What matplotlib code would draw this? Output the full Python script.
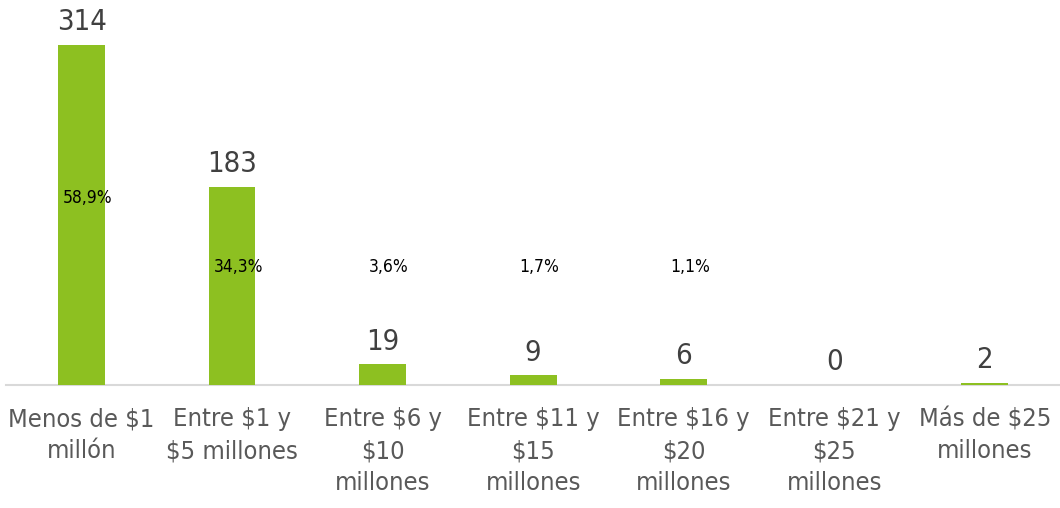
import numpy as np
import matplotlib
matplotlib.use('Agg')
import matplotlib.pyplot as plt

categories = ['Menos de $1\nmillón', 'Entre $1 y\n$5 millones', 'Entre $6 y\n$10\nmillones',
              'Entre $11 y\n$15\nmillones', 'Entre $16 y\n$20\nmillones', 'Entre $21 y\n$25\nmillones',
              'Más de $25\nmillones']
counts = [314, 183, 19, 9, 6, 0, 2]
pct_labels = ['58,9%', '34,3%', '3,6%', '1,7%', '1,1%']
pct_ypos = [173, 109, 109, 109, 109]  # where the percent labels sit (data units)

plt.rcParams['font.family'] = 'DejaVu Sans'
stretch = 'condensed'

fig = plt.figure(figsize=(10.6, 5.08), dpi=100)
ax = fig.add_axes([0.006, 0.242, 0.994, 0.746])

x = np.arange(len(categories))
ax.bar(x, counts, width=0.31, color='#8DC021', zorder=3)

for xi, c in zip(x, counts):
    ax.text(xi, c + 8, str(c), ha='center', va='bottom', fontsize=21,
            color='#404040', fontstretch=stretch)

for xi, lab, yp in zip(x, pct_labels, pct_ypos):
    ax.text(xi + 0.04, yp, lab, ha='center', va='center', fontsize=12.5,
            color='black', fontstretch=stretch)

ax.set_xlim(-0.5, len(categories) - 0.5)
ax.set_ylim(0, 350)
ax.set_yticks([])
ax.set_xticks(x)
ax.set_xticklabels(categories, fontsize=18.3, color='#595959', linespacing=1.42,
                   fontstretch=stretch)
ax.tick_params(axis='x', length=0, pad=16)
for s in ['top', 'right', 'left']:
    ax.spines[s].set_visible(False)
ax.spines['bottom'].set_color('#D9D9D9')
ax.spines['bottom'].set_linewidth(1.5)
ax.spines['bottom'].set_zorder(1)

fig.savefig('out.png', dpi=100)
